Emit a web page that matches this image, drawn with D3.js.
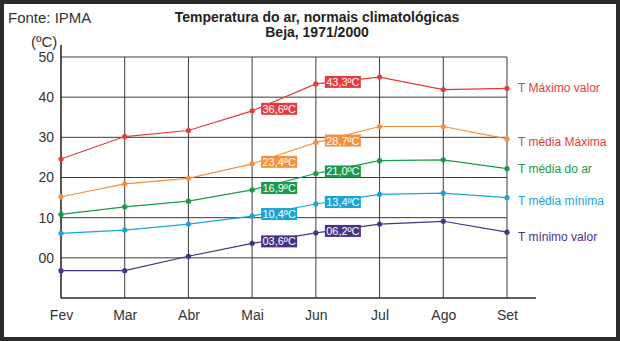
<!DOCTYPE html>
<html>
<head>
<meta charset="utf-8">
<script src="https://cdn.jsdelivr.net/npm/d3@7"></script>
<style>
  body { margin: 0; background: #fff; }
  svg { display: block; font-family: "Liberation Sans", Arial, sans-serif; }
</style>
</head>
<body>
<div id="chart"></div>
<script>
'use strict';

// data
var MONTHS = ['Fev', 'Mar', 'Abr', 'Mai', 'Jun', 'Jul', 'Ago', 'Set'];
var SERIES_NAMES = ['T Máximo valor', 'T média Máxima', 'T média do ar', 'T média mínima', 'T mínimo valor'];
var MAX_VALOR = [24.6, 30.2, 31.7, 36.6, 43.3, 45.0, 41.9, 42.2];
var MEDIA_MAXIMA = [15.2, 18.4, 19.8, 23.4, 28.7, 32.7, 32.7, 29.6];
var MEDIA_AR = [10.8, 12.7, 14.1, 16.9, 21.0, 24.2, 24.4, 22.2];
var MEDIA_MINIMA = [6.1, 6.9, 8.4, 10.4, 13.4, 15.8, 16.1, 15.0];
var MIN_VALOR = [-3.2, -3.2, 0.4, 3.6, 6.2, 8.4, 9.1, 6.4];
var LABELLED_MONTHS = ['Mai', 'Jun'];
var Y_TICKS = [0, 10, 20, 30, 40, 50];

// colours and layout, in pixels
var COLORS = ['#e63a3b', '#f58f3e', '#189a4b', '#19a5d8', '#4b3183'];
var NAME_COLORS = ['#e63a3b', '#e63a3b', '#189a4b', '#19a5d8', '#4b3183'];
var NAME_DY = [0, 3, 0, 3, 5];
var WIDTH = 620, HEIGHT = 341;

var seriesValues = [MAX_VALOR, MEDIA_MAXIMA, MEDIA_AR, MEDIA_MINIMA, MIN_VALOR];

var svg = d3.select('#chart').append('svg')
  .attr('width', WIDTH)
  .attr('height', HEIGHT);

svg.append('rect')
  .attr('x', 2).attr('y', 2)
  .attr('width', WIDTH - 4).attr('height', HEIGHT - 4)
  .style('fill', '#fff')
  .style('stroke', '#2b2b2b')
  .style('stroke-width', 4);

var x = d3.scalePoint().domain(MONTHS).range([61, 507]);
var y = d3.scaleLinear().domain([-10, 50]).range([298, 57]);

// grid
var grid = svg.append('g').style('stroke', '#3a3a3a').style('stroke-width', 1);
grid.selectAll('line.h')
  .data(Y_TICKS)
  .enter()
  .append('line')
  .attr('x1', x('Fev')).attr('x2', x('Set'))
  .attr('y1', function(d) { return y(d); })
  .attr('y2', function(d) { return y(d); });
grid.selectAll('line.v')
  .data(MONTHS.slice(1))
  .enter()
  .append('line')
  .attr('x1', function(d) { return x(d); })
  .attr('x2', function(d) { return x(d); })
  .attr('y1', y(50)).attr('y2', y(-10));

// axes
svg.append('line')
  .attr('x1', x('Fev')).attr('x2', 536)
  .attr('y1', y(-10)).attr('y2', y(-10))
  .style('stroke', '#2b2b2b').style('stroke-width', 1.6);
svg.append('line')
  .attr('x1', x('Fev')).attr('x2', x('Fev'))
  .attr('y1', 45).attr('y2', y(-10))
  .style('stroke', '#2b2b2b').style('stroke-width', 1.6);

var yAxis = d3.axisLeft(y)
  .tickValues(Y_TICKS)
  .tickSize(0)
  .tickPadding(8)
  .tickFormat(function(d) { return d === 0 ? '00' : d; });
var yg = svg.append('g').attr('transform', 'translate(' + (x('Fev') + 1) + ',0)').call(yAxis);
yg.select('.domain').remove();
yg.selectAll('text')
  .style('font-family', '"Liberation Sans", Arial, sans-serif')
  .style('font-size', '14px')
  .style('fill', '#333');

var xAxis = d3.axisBottom(x).tickSize(0).tickPadding(12);
var xg = svg.append('g').attr('transform', 'translate(0,' + y(-10) + ')').call(xAxis);
xg.select('.domain').remove();
xg.selectAll('text')
  .style('font-family', '"Liberation Sans", Arial, sans-serif')
  .style('font-size', '14px')
  .style('fill', '#333');

// series
var line = d3.line()
  .x(function(d, i) { return x(MONTHS[i]); })
  .y(function(d) { return y(d); });

seriesValues.forEach(function(values, s) {
  var g = svg.append('g');
  g.append('path')
    .attr('d', line(values))
    .style('fill', 'none')
    .style('stroke', COLORS[s])
    .style('stroke-width', 1.2);

  g.selectAll('circle')
    .data(values)
    .enter()
    .append('circle')
    .attr('cx', function(d, i) { return x(MONTHS[i]); })
    .attr('cy', function(d) { return y(d); })
    .attr('r', 2.6)
    .style('fill', COLORS[s]);

  // value boxes on Mai and Jun
  LABELLED_MONTHS.forEach(function(m) {
    var v = values[MONTHS.indexOf(m)];
    var txt = (v < 10 ? '0' : '') + v.toFixed(1).replace('.', ',') + 'ºC';
    var bx = x(m) + 9, by = y(v) - 8;
    g.append('rect')
      .attr('x', bx).attr('y', by)
      .attr('width', 36).attr('height', 12)
      .style('fill', COLORS[s]);
    g.append('text')
      .attr('x', bx + 18).attr('y', by + 10)
      .attr('text-anchor', 'middle')
      .style('font-size', '11px')
      .style('fill', '#fff')
      .text(txt);
  });

  g.append('text')
    .attr('x', 518)
    .attr('y', y(values[values.length - 1]) + 4 + NAME_DY[s])
    .style('font-size', '12px')
    .style('fill', NAME_COLORS[s])
    .text(SERIES_NAMES[s]);
});

// titles
svg.append('text')
  .attr('x', 8).attr('y', 23)
  .style('font-size', '15px')
  .style('fill', '#333')
  .text('Fonte: IPMA');
svg.append('text')
  .attr('x', 31).attr('y', 47)
  .style('font-size', '15px')
  .style('fill', '#333')
  .text('(ºC)');
svg.append('text')
  .attr('x', 317).attr('y', 22)
  .attr('text-anchor', 'middle')
  .style('font-size', '14px')
  .style('font-weight', 'bold')
  .style('fill', '#222')
  .text('Temperatura do ar, normais climatológicas');
svg.append('text')
  .attr('x', 317).attr('y', 37)
  .attr('text-anchor', 'middle')
  .style('font-size', '14px')
  .style('font-weight', 'bold')
  .style('fill', '#222')
  .text('Beja, 1971/2000');
</script>
</body>
</html>
